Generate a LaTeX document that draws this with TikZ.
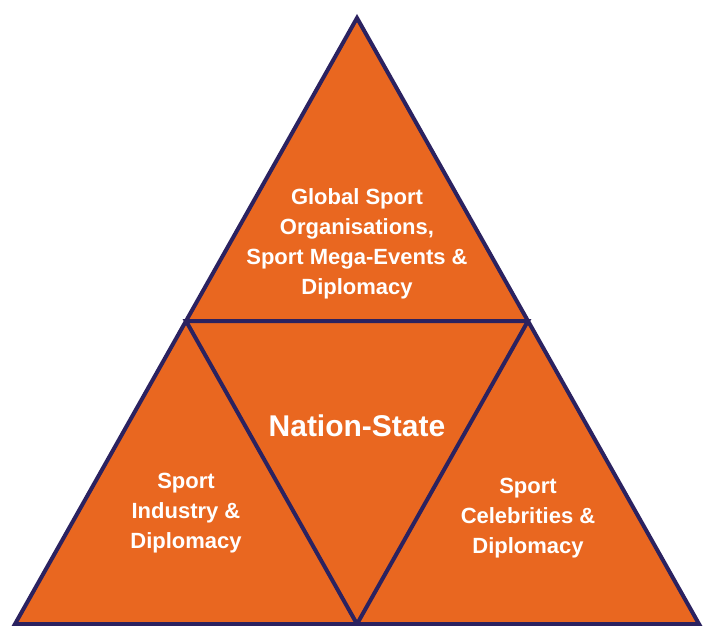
\documentclass[tikz,border=0pt]{standalone}
\usepackage{fontspec}
\setmainfont{Liberation Sans}
\definecolor{pyrorange}{HTML}{E96720}
\definecolor{pyrnavy}{HTML}{2B2260}

\begin{document}
\begin{tikzpicture}[x=1pt,y=-1pt]
    \tikzstyle{every node}+=[inner sep=0pt, text=white, font=\bfseries, align=center]
    \tikzstyle{label}=[font=\fontsize{22}{30}\selectfont\bfseries]
    \useasboundingbox (0,0) rectangle (704,626);
    % outer triangle and the inner one
    \fill [pyrorange] (357,18) -- (699,624) -- (15,624) -- cycle;
    \draw [pyrnavy, line width=4pt, line join=miter] (357,18) -- (699,624) -- (15,624) -- cycle;
    \draw [pyrnavy, line width=4pt, line join=miter] (186,321) -- (528,321) -- (357,624) -- cycle;
    % texts
    \node [label] (global) at (357,244) {Global Sport\\Organisations,\\Sport Mega-Events \&\\Diplomacy};
    \node [font=\fontsize{30}{36}\selectfont\bfseries] (nation) at (357,426) {Nation-State};
    \node [label] (industry) at (186,513) {Sport\\Industry \&\\Diplomacy};
    \node [label] (celeb) at (528,518) {Sport\\Celebrities \&\\Diplomacy};
\end{tikzpicture}
\end{document}
